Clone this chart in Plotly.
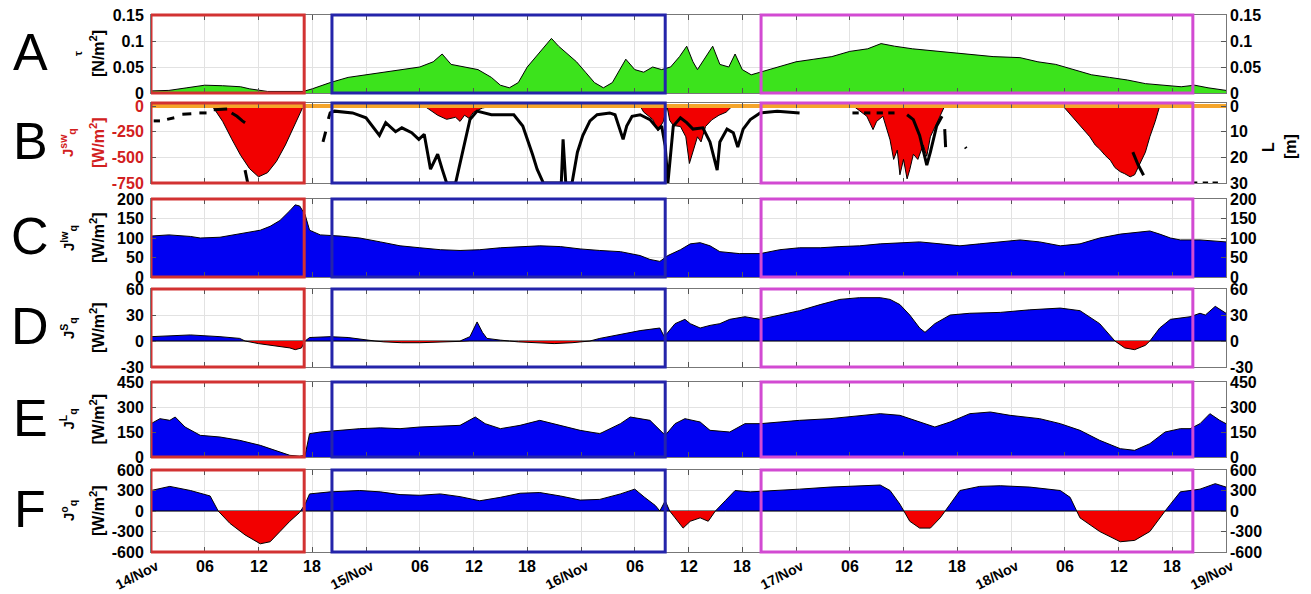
import numpy as np
import plotly.graph_objects as go

# ---------------- data (time = hours since 14/Nov 00:00) ----------------
tau_t = [0, 2, 4, 6, 8, 10, 11, 13, 17, 18, 20, 22, 24, 26, 28, 30, 31.5, 32.5, 33.5, 35, 36.5, 38, 39, 40,
         41, 42, 43, 44, 44.7, 45.5, 46.5, 47.5, 48.5, 49.5, 50.5, 51.5, 52.5, 53, 54, 55, 56, 57, 58, 59,
         59.8, 60.5, 61, 62, 62.7, 63.5, 64.5, 65.2, 66, 67, 68, 70, 72, 74, 76, 78, 80, 81.5, 83, 85, 88,
         91, 94, 97, 99, 101, 103, 105, 107, 109, 111, 113, 115, 116.5, 118, 120]
tau_v = [0.004, 0.005, 0.01, 0.015, 0.014, 0.012, 0.008, 0.003, 0.003, 0.008, 0.02, 0.03, 0.035, 0.04,
         0.045, 0.05, 0.06, 0.075, 0.055, 0.05, 0.045, 0.03, 0.015, 0.01, 0.02, 0.05, 0.07, 0.09, 0.105,
         0.09, 0.075, 0.06, 0.04, 0.02, 0.01, 0.02, 0.05, 0.065, 0.045, 0.04, 0.05, 0.045, 0.05, 0.07, 0.09,
         0.06, 0.045, 0.07, 0.09, 0.055, 0.05, 0.075, 0.045, 0.035, 0.04, 0.05, 0.06, 0.065, 0.07, 0.08,
         0.085, 0.095, 0.09, 0.085, 0.08, 0.075, 0.07, 0.068, 0.06, 0.055, 0.045, 0.035, 0.03, 0.025, 0.018,
         0.015, 0.012, 0.015, 0.01, 0.005]

jsw_t = [0, 6.5, 7, 8, 9, 10, 11, 12, 13, 14, 15, 16, 16.8, 17,
         30.5, 31, 32, 33, 34, 34.5, 35, 35.5, 36, 37, 38,
         54.6, 55, 56, 56.6, 57.2, 57.6, 57.9, 58.3, 59.1, 59.7, 60.1, 60.5, 61, 61.4, 61.9, 62.6, 63.4, 64.2, 64.9,
         78.4, 79.1, 79.9, 80.6, 81, 81.7, 82.5, 82.9, 83.3, 83.6, 84, 84.4, 84.7, 85.1, 85.6, 86.2, 86.6, 87,
         87.7, 88.6,
         101.8, 102.6, 103.7, 104.8, 105.4, 105.9, 106.5, 107.1, 107.6, 108.2, 108.7, 109.3, 109.8, 110.4,
         111, 111.5, 112.1, 112.6, 120]
jsw_v = [0, 0, -20, -150, -320, -480, -610, -690, -650, -540, -380, -200, -40, 0,
         0, -30, -90, -130, -110, -150, -90, -120, -60, -20, 0,
         0, -60, -130, -240, -150, 0, -140, -190, -200, -300, -560, -450, -300, -350, -200, -135, -90, -60, 0,
         0, -50, -100, -230, -150, -100, -330, -520, -430, -670, -520, -710, -620, -470, -520, -380, -490, -300,
         -170, 0,
         0, -80, -200, -300, -380, -420, -480, -530, -600, -640, -660, -690, -670, -560,
         -450, -300, -150, 0, 0]

L_t = [0.3, 1.0, None, 1.8, 2.6, None, 3.5, 4.5, None, 5.4, 6.2, None, 7.0, 8.5, None,
       9.0, 9.6, 10.2, 10.5, None, 10.5, 10.8, None, 19.2, 19.5, None,
       19.8, 20.0, 20.5, 22.5, 24.0, 25.5, 26.2, 27.3, 28.0, 29.1, 29.9, 30.5, 31.2, 32.0, 32.5, 33.0, 34.0,
       34.8, 35.6, 36.4, 38.0, 40.5, 41.5, 42.6, 43.1, 43.8, 45.3, 45.8, 46.0, 46.3, 47.0, 47.6, 48.2, 49.0,
       49.8, 51.2, 51.8, 52.4, 52.7, 53.1, 53.7, 54.6, 55.7, 56.6, 57.0, 57.4, 57.7, 58.3, 59.1, 59.8, 60.5,
       61.6, 62.4, 63.2, 63.5, 64.3, 65.0, 65.5, 66.1, 66.9, 68.0, 69.9, 72.4, None,
       78.3, 79.0, None, 79.6, 80.3, None, 81.0, 81.7, None, 82.3, 83.0, None,
       84.4, 85.1, 85.8, 86.4, 86.6, 87.0, 87.7, 88.3, None, 88.6, 88.7, None, 90.9, 91.0, None,
       109.6, 110.2, 110.8, None, 116.2, 116.8, None, 117.4, 118.0, None, 118.5, 119.1]
L_v = [5.8, 5.8, None, 5.2, 4.6, None, 3.2, 3.0, None, 2.7, 2.7, None, 1.5, 1.2, None,
       2.7, 4.0, 5.8, 6.5, None, 25, 30, None, 14, 10, None,
       5, 2.7, 2, 2.7, 4.6, 11.5, 6.5, 10, 8.5, 10.4, 13, 11, 24.6, 18.8, 24.6, 30, 30,
       17, 5.3, 2, 3.4, 3.4, 7.8, 19, 24.6, 30, 30, 30, 13, 30, 30, 18, 11.5, 5.8,
       3.4, 2.7, 3.4, 10.4, 13, 7.8, 4, 3.4, 5.3, 9, 7.8, 15.6, 30, 7.8, 4.6, 6.5, 9,
       8.5, 14, 25, 14, 9, 10.4, 16, 9, 5.3, 2.7, 2, 2.7, None,
       2.7, 2.7, None, 2.7, 2.7, None, 2.7, 2.7, None, 2.7, 2.7, None,
       3.4, 5.3, 11.5, 20.7, 23, 18, 7.8, 4, None, 9, 16, None, 16, 16.5, None,
       18, 23, 27, None, 30, 30, None, 30, 30, None, 30, 30]

jlw_t = [0, 2, 4.4, 5.5, 7.7, 9.9, 12.2, 13.3, 14.4, 15.5, 16.1, 16.6, 17.2, 17.7, 18.9, 21.1, 23.3, 25.6,
         27.8, 30, 32.3, 34.5, 36.7, 39, 41.2, 43.4, 45.7, 47.9, 50.1, 52.4, 54.6, 55.7, 56.8, 57.7, 59.1,
         60.2, 61.3, 62.4, 63.5, 65.7, 68, 70.2, 72.4, 74.7, 76.9, 79.1, 81.4, 83.6, 85.8, 88.1, 90.3, 92.5,
         94.8, 97, 99.2, 101.5, 103.7, 105.9, 108.2, 110.4, 111.5, 112.6, 113.8, 114.9, 117.1, 120]
jlw_v = [105, 108, 104, 100, 102, 110, 120, 130, 145, 170, 185, 182, 160, 120, 108, 105, 100, 90, 80, 75,
         70, 68, 70, 75, 78, 80, 78, 72, 68, 65, 55, 45, 40, 55, 70, 85, 88, 80, 65, 60, 60, 70, 75, 75, 78,
         80, 85, 88, 90, 85, 80, 85, 90, 95, 90, 80, 85, 100, 110, 115, 118, 110, 100, 95, 95, 90]

js_t = [0, 2, 4.4, 7.7, 9.9, 10.5, 12, 14, 15.5, 16.1, 16.8, 17.2, 17.7, 20, 22, 24, 26, 28, 30, 32, 34.5,
        35.6, 36.4, 37, 37.5, 39, 41, 43, 45, 47, 49, 50.1, 52.4, 54.6, 56.8, 57.3, 57.7, 58.5, 59.6, 60.2,
        61.3, 62.4, 63.5, 64.6, 66.3, 68, 70.2, 72.4, 74.7, 76.9, 79.1, 81.4, 82.5, 83.6, 84.7, 85.8, 86.4,
        87.5, 89.2, 91.4, 94.8, 98.1, 101.5, 103.7, 105.9, 107.1, 107.6, 108.7, 109.8, 111, 111.5, 112.6,
        113.8, 116, 117.1, 117.7, 118.8, 120]
js_v = [5, 6, 7, 5, 3, 0, -3, -6, -8, -10, -8, 0, 4, 5, 4, 1, -1, -2, -2, -1, 0,
        5, 22, 10, 3, 1, -1, -2, -3, -2, 0, 3, 8, 12, 15, 5, 10, 20, 25, 20,
        15, 18, 20, 25, 28, 25, 30, 35, 42, 48, 50, 50, 48, 42, 30, 15, 10,
        20, 30, 32, 33, 36, 38, 35, 20, 5, 0, -8, -10, -5, 0, 15,
        25, 28, 32, 30, 40, 32]

jl_t = [0, 1, 2.1, 2.7, 3.8, 5.5, 7.7, 9.9, 12.2, 14.4, 15.5, 16.6, 17.2, 17.7, 18.9, 21.1, 23.3, 25.6,
        27.8, 30, 32.3, 34.5, 36.2, 37.3, 39, 41.2, 43.4, 45.7, 47.9, 50.1, 52.4, 53.5, 55.7, 57.4, 58.5,
        59.6, 61.3, 62.4, 64.6, 66.3, 68, 70.2, 72.4, 75.8, 79.1, 81.4, 83.6, 85.8, 87.5, 89.2, 91.4, 93.7,
        95.9, 99.2, 101.5, 103.7, 105.9, 108.2, 109.8, 111.5, 113.2, 114.9, 116, 117.1, 118.2, 119.3, 120]
jl_v = [200, 230, 220, 240, 180, 130, 120, 100, 70, 30, 10, 5, 10, 140, 150, 160, 170, 175,
        170, 180, 185, 190, 240, 200, 170, 190, 220, 190, 160, 140, 200, 240, 220, 130, 200,
        230, 210, 160, 150, 200, 200, 210, 220, 230, 250, 260, 250, 210, 180, 210, 260, 270,
        250, 230, 200, 160, 100, 50, 40, 80, 150, 170, 170, 200, 260, 220, 200]

jo_t = [0, 2.1, 4.4, 6.6, 7.5, 8.8, 10.5, 12.2, 13.3, 14.4, 15.5, 16.6, 17.2, 17.7, 20, 23.3, 25.6, 27.8,
        30, 32.3, 34.5, 36.7, 39, 41.2, 43.4, 45.7, 47.9, 50.1, 52.4, 54, 55.1, 56.3, 56.8, 57.4, 57.9,
        58.5, 59.4, 60.2, 61.3, 62.2, 63, 64.1, 65.2, 66.9, 69.1, 72.4, 75.8, 79.1, 81.4, 82.5, 83.6,
        84.7, 85.8, 87, 88.1, 89.2, 90.3, 92.5, 94.8, 98.1, 101.5, 102.6, 103.7, 105.9, 108.2, 109.8,
        111.5, 112.6, 113.8, 114.9, 117.1, 118.8, 120]
jo_v = [300, 360, 300, 220, 0, -180, -350, -480, -450, -300, -150, -20, 100, 250, 280, 300, 280, 240,
        230, 250, 210, 150, 200, 260, 270, 220, 160, 170, 250, 320, 200, 80, 0, 150, 0,
        -100, -250, -150, -100, -150, 0, 150, 300, 280, 300, 320, 350, 370, 380, 300, 100,
        -150, -250, -250, -100, 100, 300, 360, 370, 350, 300, 200, -100, -300, -450, -430,
        -300, -100, 100, 280, 320, 400, 350]

xtick_hours = list(range(0, 121, 6))
xtick_text = ["14/Nov", "06", "12", "18", "15/Nov", "06", "12", "18", "16/Nov", "06", "12", "18",
              "17/Nov", "06", "12", "18", "18/Nov", "06", "12", "18", "19/Nov"]

panel_letters = ["A", "B", "C", "D", "E", "F"]
box_red = [0, 17.1]
box_blue = [20.2, 57.4]
box_magenta = [68.1, 116.3]

# ---------------- helpers ----------------
H = 594
W = 1311


def py(p):
    return 1 - p / H


def split_sign(t, v):
    t = np.asarray(t, float)
    v = np.asarray(v, float)
    tt, vv = [t[0]], [v[0]]
    for i in range(1, len(t)):
        if v[i - 1] * v[i] < 0:
            tc = t[i - 1] + (t[i] - t[i - 1]) * (-v[i - 1]) / (v[i] - v[i - 1])
            tt.append(tc)
            vv.append(0.0)
        tt.append(t[i])
        vv.append(v[i])
    tt = np.array(tt)
    vv = np.array(vv)
    return tt, np.maximum(vv, 0), np.minimum(vv, 0)


FONT = "Liberation Sans"
GREEN = "#3ce31c"
BLUE = "#0000f2"
RED = "#f20000"
ORANGE = "#f5a52a"
RED_TXT = "#d22020"

panels_px = [(15, 93), (103, 183), (199, 277), (289, 367), (382, 457), (470, 552)]
xdom = [151 / W, 1226 / W]

fig = go.Figure()


def ax(i):
    return "x" if i == 1 else f"x{i}"


def ay(i):
    return "y" if i == 1 else f"y{i}"


# A
fig.add_trace(go.Scatter(x=tau_t, y=tau_v, fill="tozeroy", fillcolor=GREEN, mode="lines",
                         line=dict(color="black", width=1), xaxis="x", yaxis="y"))
# B
fig.add_trace(go.Scatter(x=jsw_t, y=jsw_v, fill="tozeroy", fillcolor=RED, mode="lines",
                         line=dict(color="black", width=1), xaxis="x2", yaxis="y2"))
fig.add_trace(go.Scatter(x=[0, 120], y=[0, 0], mode="lines", line=dict(color=ORANGE, width=4),
                         xaxis="x2", yaxis="y8"))
fig.add_trace(go.Scatter(x=L_t, y=L_v, mode="lines", line=dict(color="black", width=3),
                         connectgaps=False, xaxis="x2", yaxis="y8"))
# C
fig.add_trace(go.Scatter(x=jlw_t, y=jlw_v, fill="tozeroy", fillcolor=BLUE, mode="lines",
                         line=dict(color="black", width=1), xaxis="x3", yaxis="y3"))
# D
t2, pos, neg = split_sign(js_t, js_v)
fig.add_trace(go.Scatter(x=t2, y=pos, fill="tozeroy", fillcolor=BLUE, mode="lines",
                         line=dict(color="black", width=1), xaxis="x4", yaxis="y4"))
fig.add_trace(go.Scatter(x=t2, y=neg, fill="tozeroy", fillcolor=RED, mode="lines",
                         line=dict(color="black", width=1), xaxis="x4", yaxis="y4"))
# E
fig.add_trace(go.Scatter(x=jl_t, y=jl_v, fill="tozeroy", fillcolor=BLUE, mode="lines",
                         line=dict(color="black", width=1), xaxis="x5", yaxis="y5"))
# F
t2, pos, neg = split_sign(jo_t, jo_v)
fig.add_trace(go.Scatter(x=t2, y=pos, fill="tozeroy", fillcolor=BLUE, mode="lines",
                         line=dict(color="black", width=1), xaxis="x6", yaxis="y6"))
fig.add_trace(go.Scatter(x=t2, y=neg, fill="tozeroy", fillcolor=RED, mode="lines",
                         line=dict(color="black", width=1), xaxis="x6", yaxis="y6"))

# y settings
yset = [
    dict(range=[0, 0.15], tickvals=[0, 0.05, 0.1, 0.15], ticktext=["0", "0.05", "0.1", "0.15"]),
    dict(range=[-750, 29.2], tickvals=[0, -250, -500, -750], ticktext=["0", "-250", "-500", "-750"]),
    dict(range=[0, 200], tickvals=[0, 50, 100, 150, 200], ticktext=["0", "50", "100", "150", "200"]),
    dict(range=[-30, 60], tickvals=[-30, 0, 30, 60], ticktext=["-30", "0", "30", "60"]),
    dict(range=[0, 450], tickvals=[0, 150, 300, 450], ticktext=["0", "150", "300", "450"]),
    dict(range=[-600, 600], tickvals=[-600, -300, 0, 300, 600], ticktext=["-600", "-300", "0", "300", "600"]),
]
right_set = [
    yset[0],
    dict(range=[30, -1.17], tickvals=[0, 10, 20, 30], ticktext=["0", "10", "20", "30"]),
    yset[2], yset[3], yset[4], yset[5],
]

# dummy traces so right axes render
for i in range(1, 7):
    if i == 2:
        continue
    r = right_set[i - 1]["range"]
    fig.add_trace(go.Scatter(x=[60], y=[r[0]], mode="markers", marker=dict(opacity=0, size=1),
                             hoverinfo="skip", xaxis=ax(i), yaxis=f"y{i + 6}"))

layout = dict(width=W, height=H, margin=dict(l=0, r=0, t=0, b=0), plot_bgcolor="white",
              paper_bgcolor="white", showlegend=False, hovermode=False)

for i in range(1, 7):
    top, bot = panels_px[i - 1]
    dom = [py(bot), py(top)]
    xname = "xaxis" if i == 1 else f"xaxis{i}"
    yname = "yaxis" if i == 1 else f"yaxis{i}"
    layout[xname] = dict(domain=xdom, anchor=ay(i), range=[0, 120], tickvals=xtick_hours,
                         showticklabels=False, showgrid=True, gridcolor="#e2e2e2", gridwidth=1,
                         ticks="inside", ticklen=5, tickcolor="#555", showline=True, linecolor="#777",
                         linewidth=1, mirror="ticks", zeroline=False, fixedrange=True)
    ys = yset[i - 1]
    tcol = RED_TXT if i == 2 else "black"
    layout[yname] = dict(domain=dom, anchor=ax(i), range=ys["range"], tickvals=ys["tickvals"],
                         ticktext=ys["ticktext"], tickmode="array", showgrid=True, gridcolor="#e2e2e2",
                         ticks="inside", ticklen=5, tickcolor="#555", showline=True, linecolor="#777",
                         linewidth=1, mirror=True, zeroline=False,
                         tickfont=dict(family=FONT, size=16, color=tcol, weight="bold"),
                         ticklabelstandoff=3, automargin=False)
    rs = right_set[i - 1]
    layout[f"yaxis{i + 6}"] = dict(domain=dom, anchor=ax(i), overlaying=ay(i), side="right",
                                   range=rs["range"], tickvals=rs["tickvals"], ticktext=rs["ticktext"],
                                   tickmode="array", showgrid=False, ticks="inside", ticklen=5,
                                   tickcolor="#555", showline=False, zeroline=False,
                                   tickfont=dict(family=FONT, size=16, color="black", weight="bold"),
                                   ticklabelstandoff=3, automargin=False)

shapes = []
for i in range(1, 7):
    yref = "y domain" if i == 1 else f"y{i} domain"
    for (b, col) in [(box_red, "#d23232"), (box_blue, "#2424aa"), (box_magenta, "#d24ad2")]:
        shapes.append(dict(type="rect", xref=ax(i), yref=yref, x0=b[0], x1=b[1], y0=0, y1=1,
                           line=dict(color=col, width=3), layer="above"))
layout["shapes"] = shapes

ann = []
# panel letters
for i, letter in enumerate(panel_letters):
    top, bot = panels_px[i]
    ann.append(dict(text=letter, x=30 / W, y=py((top + bot) / 2 - 2), xref="paper", yref="paper",
                    showarrow=False, xanchor="center", yanchor="middle",
                    font=dict(family=FONT, size=52, color="black")))

# y-axis titles
titles = [
    ("\u03c4", "[N/m<sup>2</sup>]", "black"),
    ("J<sup>sw</sup><sub>q</sub>", "[W/m<sup>2</sup>]", RED_TXT),
    ("J<sup>lw</sup><sub>q</sub>", "[W/m<sup>2</sup>]", "black"),
    ("J<sup>S</sup><sub>q</sub>", "[W/m<sup>2</sup>]", "black"),
    ("J<sup>L</sup><sub>q</sub>", "[W/m<sup>2</sup>]", "black"),
    ("J<sup>o</sup><sub>q</sub>", "[W/m<sup>2</sup>]", "black"),
]
for i, (sym, unit, col) in enumerate(titles):
    top, bot = panels_px[i]
    cy = (top + bot) / 2
    symsize = 11 if i == 0 else 15
    symx = 78 if i == 0 else 68
    ann.append(dict(text=sym, x=symx / W, y=py(cy), xref="paper", yref="paper", showarrow=False,
                    textangle=-90, xanchor="center", yanchor="middle",
                    font=dict(family=FONT, size=symsize, color=col, weight="bold")))
    ann.append(dict(text=unit, x=97 / W, y=py(cy), xref="paper", yref="paper", showarrow=False,
                    textangle=-90, xanchor="center", yanchor="middle",
                    font=dict(family=FONT, size=16, color=col, weight="bold")))

# right labels for panel B
ann.append(dict(text="L", x=1268 / W, y=py(147), xref="paper", yref="paper", showarrow=False,
                textangle=-90, xanchor="center", yanchor="middle",
                font=dict(family=FONT, size=16, color="black", weight="bold")))
ann.append(dict(text="[m]", x=1290 / W, y=py(147), xref="paper", yref="paper", showarrow=False,
                textangle=-90, xanchor="center", yanchor="middle",
                font=dict(family=FONT, size=16, color="black", weight="bold")))

# x tick labels
for h, txt in zip(xtick_hours, xtick_text):
    if "/" in txt:
        ann.append(dict(text=txt, x=h, xref="x6", y=py(575), yref="paper", showarrow=False,
                        textangle=-27, xanchor="center", yanchor="middle", xshift=-14,
                        font=dict(family=FONT, size=14, color="black", weight="bold")))
    else:
        ann.append(dict(text=txt, x=h, xref="x6", y=py(566), yref="paper", showarrow=False,
                        xanchor="center", yanchor="middle",
                        font=dict(family=FONT, size=16, color="black", weight="bold")))
layout["annotations"] = ann

fig.update_layout(**layout)
fig.write_html("out.html")
